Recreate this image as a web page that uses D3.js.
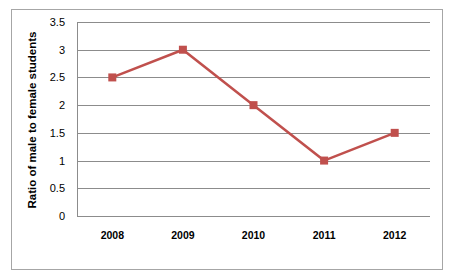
<!DOCTYPE html>
<html>
<head>
<meta charset="utf-8">
<script src="https://cdn.jsdelivr.net/npm/d3@7"></script>
<style>
  body { margin: 0; background: #fff; }
  svg { display: block; }
</style>
</head>
<body>
<svg id="svg" width="453" height="276"></svg>
<script>
var years = ["2008", "2009", "2010", "2011", "2012"];
var ratios = [2.5, 3, 2, 1, 1.5];
var yTicks = [0, 0.5, 1, 1.5, 2, 2.5, 3, 3.5];

var svg = d3.select("#svg"),
    width = 453,
    height = 276;

// plot area (named so it doesn't clash with window.top)
var plotLeft = 77, plotRight = 430, plotTop = 22, plotBottom = 216;

// outer chart border
svg.append("rect")
    .attr("x", 11.5)
    .attr("y", 9.5)
    .attr("width", 431)
    .attr("height", 260)
    .attr("fill", "#fff")
    .attr("stroke", "#a6a6a6")
    .attr("stroke-width", 1);

var x = d3.scaleBand()
    .domain(years)
    .range([plotLeft, plotRight]);

var y = d3.scaleLinear()
    .domain([0, 3.5])
    .range([plotBottom, plotTop]);

// gridlines + y labels
var yAxis = d3.axisLeft(y)
    .tickValues(yTicks)
    .tickSize(-(plotRight - plotLeft))
    .tickPadding(12)
    .tickFormat(d3.format("~g"));

svg.append("g")
    .attr("transform", "translate(" + plotLeft + ",0)")
    .call(yAxis)
    .call(function(g) {
        g.select(".domain").attr("stroke", "#8c8c8c").attr("d", "M0.5," + plotTop + "V" + (plotBottom + 0.5));
        g.selectAll(".tick line").attr("stroke", "#8c8c8c").attr("shape-rendering", "crispEdges");
        g.selectAll(".tick text")
            .attr("fill", "#000")
            .style("font-family", "'Liberation Sans', Arial, sans-serif")
            .style("font-size", "11px");
    });

// x labels
var xAxis = d3.axisBottom(x)
    .tickSize(0)
    .tickPadding(16);

svg.append("g")
    .attr("transform", "translate(0," + plotBottom + ")")
    .call(xAxis)
    .call(function(g) {
        g.select(".domain").remove();
        g.selectAll(".tick text")
            .attr("fill", "#000")
            .style("font-family", "'Liberation Sans', Arial, sans-serif")
            .style("font-size", "10.5px")
            .style("font-weight", "bold");
    });

// y axis title
svg.append("text")
    .attr("transform", "translate(36," + ((plotTop + plotBottom) / 2 + 1) + ") rotate(-90)")
    .attr("text-anchor", "middle")
    .style("font-family", "'Liberation Sans', Arial, sans-serif")
    .style("font-size", "11.5px")
    .style("font-weight", "bold")
    .attr("fill", "#000")
    .text("Ratio of male to female students");

var line = d3.line()
    .x(function(d, i) { return x(years[i]) + x.bandwidth() / 2; })
    .y(function(d) { return y(d); });

svg.append("path")
    .datum(ratios)
    .attr("d", line)
    .attr("fill", "none")
    .attr("stroke", "#c0504d")
    .attr("stroke-width", 2.5);

svg.selectAll(".pt")
    .data(ratios)
    .enter()
    .append("rect")
    .attr("class", "pt")
    .attr("x", function(d, i) { return x(years[i]) + x.bandwidth() / 2 - 4; })
    .attr("y", function(d) { return y(d) - 4; })
    .attr("width", 8)
    .attr("height", 8)
    .attr("fill", "#c0504d");
</script>
</body>
</html>
